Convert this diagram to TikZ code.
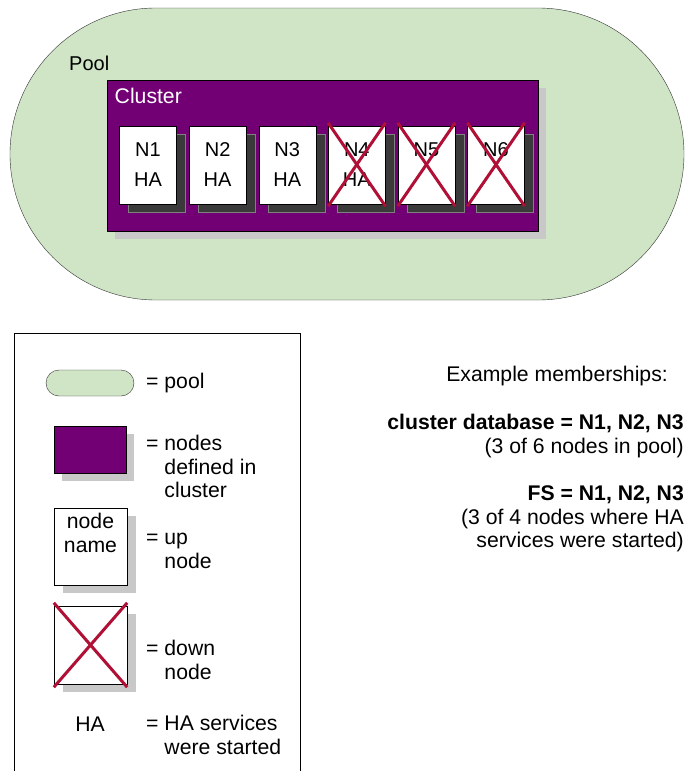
\documentclass[tikz,border=0pt]{standalone}
\usepackage{fontspec}
\setmainfont{Liberation Sans}
\usetikzlibrary{shadows}

\definecolor{poolgreen}{RGB}{207,229,198}
\definecolor{clusterpurple}{RGB}{114,0,116}
\definecolor{lightshadow}{RGB}{200,200,200}
\definecolor{darkshadow}{RGB}{58,58,58}
\definecolor{downred}{RGB}{176,16,54}

\tikzset{
    poolshape/.style={draw=black!80, fill=poolgreen, rounded corners=#1},
    clustershape/.style={draw=black, fill=clusterpurple,
        drop shadow={shadow xshift=8pt, shadow yshift=-8pt, fill=lightshadow, opacity=1}},
    nodebox/.style={draw=black, fill=white, align=center, inner sep=0pt,
        font=\fontsize{20}{30}\selectfont,
        drop shadow={shadow xshift=9pt, shadow yshift=-8pt, fill=darkshadow, draw=gray, opacity=1}},
    legendbox/.style={draw=black, fill=white, inner sep=0pt,
        drop shadow={shadow xshift=9pt, shadow yshift=-8pt, fill=lightshadow, opacity=1}},
    downcross/.style={draw=downred, line width=3pt},
    label text/.style={inner sep=0pt, anchor=west}
}

\begin{document}
\begin{tikzpicture}[x=1pt, y=-1pt, every node/.append style={font=\fontsize{21.2}{23.5}\selectfont}]
    \useasboundingbox (0, 0) rectangle (685, 771);

    % Pool
    \node[poolshape=146pt, minimum width=674pt, minimum height=292pt] (pool) at (347, 154) {};
    \node[label text, font=\fontsize{20}{23.5}\selectfont] (poollabel) at (69, 63) {Pool};

    % Cluster
    \node[clustershape, minimum width=431pt, minimum height=151pt] (cluster) at (322.5, 155.5) {};
    \node[label text, text=white] (clusterlabel) at (114.5, 96) {Cluster};

    % Nodes N1..N6, HA on N1..N4
    \foreach \i in {1,...,6} {
        \pgfmathsetmacro{\nx}{148 + 69.6*(\i-1)}
        \node[nodebox, minimum width=57pt, minimum height=78pt] (n\i) at (\nx, 165)
            {N\i\\\ifnum\i<5 HA\else\phantom{HA}\fi};
    }

    % Down nodes
    \foreach \i in {4,5,6} {
        \draw[downcross] ([yshift=3pt]n\i.north west) -- ([yshift=-2pt]n\i.south east);
        \draw[downcross] ([yshift=3pt]n\i.north east) -- ([yshift=-2pt]n\i.south west);
    }

    % Legend frame
    \draw (14, 775) -- (14, 333) -- (300, 333) -- (300, 775);

    % Legend: pool
    \node[poolshape=13pt, minimum width=88pt, minimum height=26pt] (lpool) at (90, 383) {};
    \node[label text] (tpool) at (146, 383) {= pool};

    % Legend: cluster
    \node[clustershape, minimum width=72pt, minimum height=47pt] (lcluster) at (90, 449.5) {};
    \node[label text] (tcluster) at (146, 469.5)
        {\begin{tabular}{@{}l@{ }l@{}}= & nodes\\ & defined in\\ & cluster\end{tabular}};

    % Legend: up node
    \node[legendbox, minimum width=73pt, minimum height=77pt] (lup) at (90.5, 546.5) {};
    \node[align=center, inner sep=0pt] (lupname) at (90.5, 533) {node\\name};
    \node[label text] (tup) at (146, 552)
        {\begin{tabular}{@{}l@{ }l@{}}= & up\\ & node\end{tabular}};

    % Legend: down node
    \node[legendbox, minimum width=73pt, minimum height=78pt] (ldown) at (90.5, 645) {};
    \draw[downcross] ([yshift=3pt]ldown.north west) -- ([yshift=-3pt]ldown.south east);
    \draw[downcross] ([yshift=3pt]ldown.north east) -- ([yshift=-3pt]ldown.south west);
    \node[label text] (tdown) at (146, 663)
        {\begin{tabular}{@{}l@{ }l@{}}= & down\\ & node\end{tabular}};

    % Legend: HA
    \node[inner sep=0pt] (lha) at (90, 724) {HA};
    \node[label text] (tha) at (146, 738)
        {\begin{tabular}{@{}l@{ }l@{}}= & HA services\\ & were started\end{tabular}};

    % Example memberships
    \node[inner sep=0pt, anchor=east] (memtitle) at (668, 376) {Example memberships:};
    \node[inner sep=0pt, anchor=east, align=right] (memdb) at (684, 436)
        {{\bfseries cluster database = N1, N2, N3}\\(3 of 6 nodes in pool)};
    \node[inner sep=0pt, anchor=east, align=right] (memfs) at (684, 519)
        {{\bfseries FS = N1, N2, N3}\\(3 of 4 nodes where HA\\services were started)};
\end{tikzpicture}
\end{document}
